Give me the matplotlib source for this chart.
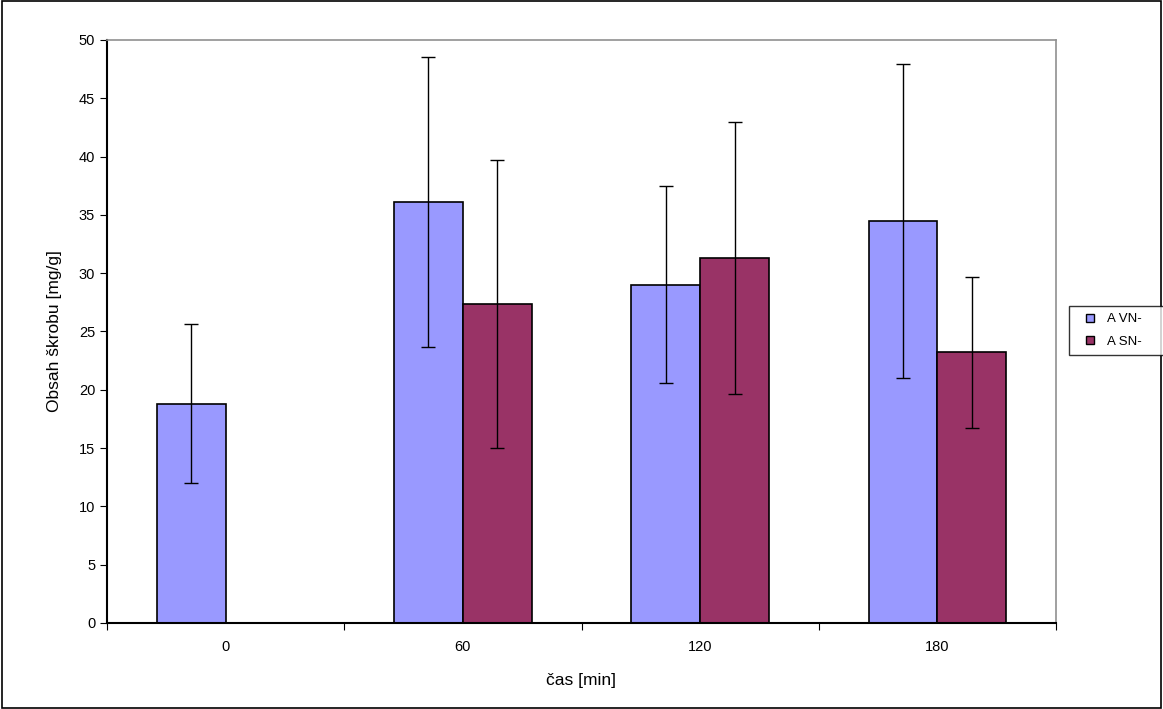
import numpy as np
import matplotlib.pyplot as plt
from matplotlib.lines import Line2D
from matplotlib.patches import Rectangle

plt.rcParams["font.family"] = ["Liberation Sans", "DejaVu Sans"]

categories = ["0", "60", "120", "180"]
vn_values = [18.8, 36.1, 29.0, 34.5]
vn_errors = [6.8, 12.45, 8.45, 13.45]
sn_values = [np.nan, 27.4, 31.3, 23.2]
sn_errors = [np.nan, 12.35, 11.7, 6.5]
series_names = ["A VN-", "A SN-"]
series_colors = ["#9999FF", "#993366"]

fig = plt.figure(figsize=(11.63, 7.09), dpi=100)
ax = fig.add_axes([0.092, 0.1213, 0.816, 0.8223])

x = np.arange(len(categories))
w = 0.29
err_kw = dict(ecolor="black", elinewidth=1, capsize=5, capthick=1)
ax.bar(x - w / 2, vn_values, w, yerr=vn_errors, color=series_colors[0],
       edgecolor="black", linewidth=1.2, error_kw=err_kw)
ax.bar(x + w / 2, sn_values, w, yerr=sn_errors, color=series_colors[1],
       edgecolor="black", linewidth=1.2, error_kw=err_kw)

ax.set_xlim(-0.5, len(categories) - 0.5)
ax.set_ylim(0, 50)
ax.set_yticks(np.arange(0, 51, 5))
ax.set_xticks(np.arange(-0.5, len(categories), 1))
ax.set_xticklabels([])
ax.set_xticks(x, minor=True)
ax.set_xticklabels(categories, minor=True)
ax.tick_params(axis="x", which="minor", length=0, pad=12, labelsize=10.5)
ax.tick_params(axis="x", which="major", length=5, direction="out")
ax.tick_params(axis="y", length=5, direction="out", labelsize=10.5)

ax.spines["left"].set_linewidth(1.5)
ax.spines["bottom"].set_linewidth(1.5)
ax.spines["top"].set_color("#909090")
ax.spines["right"].set_color("#909090")
ax.spines["top"].set_linewidth(1.2)
ax.spines["right"].set_linewidth(1.2)

ax.set_xlabel("čas [min]", fontsize=12.5, labelpad=14)
ax.set_ylabel("Obsah škrobu [mg/g]", fontsize=12.5, labelpad=12)

handles = [Line2D([], [], linestyle="none", marker="s", markersize=6,
                  markerfacecolor=c, markeredgecolor="black", markeredgewidth=1)
           for c in series_colors]
leg = fig.legend(handles, series_names, loc="center left",
                 bbox_to_anchor=(1069 / 1163, 1 - 330.5 / 709, 0.1, 0), mode="expand",
                 fontsize=9.5, frameon=True, fancybox=False, handlelength=2.2,
                 handletextpad=0.15, borderpad=0.5, labelspacing=0.8,
                 edgecolor="black", borderaxespad=0)
leg.get_frame().set_linewidth(1)

fig.patches.append(Rectangle((0.002, 0.002), 0.996, 0.996, transform=fig.transFigure,
                             fill=False, edgecolor="black", linewidth=1.2))

fig.savefig("out.png", dpi=100)
